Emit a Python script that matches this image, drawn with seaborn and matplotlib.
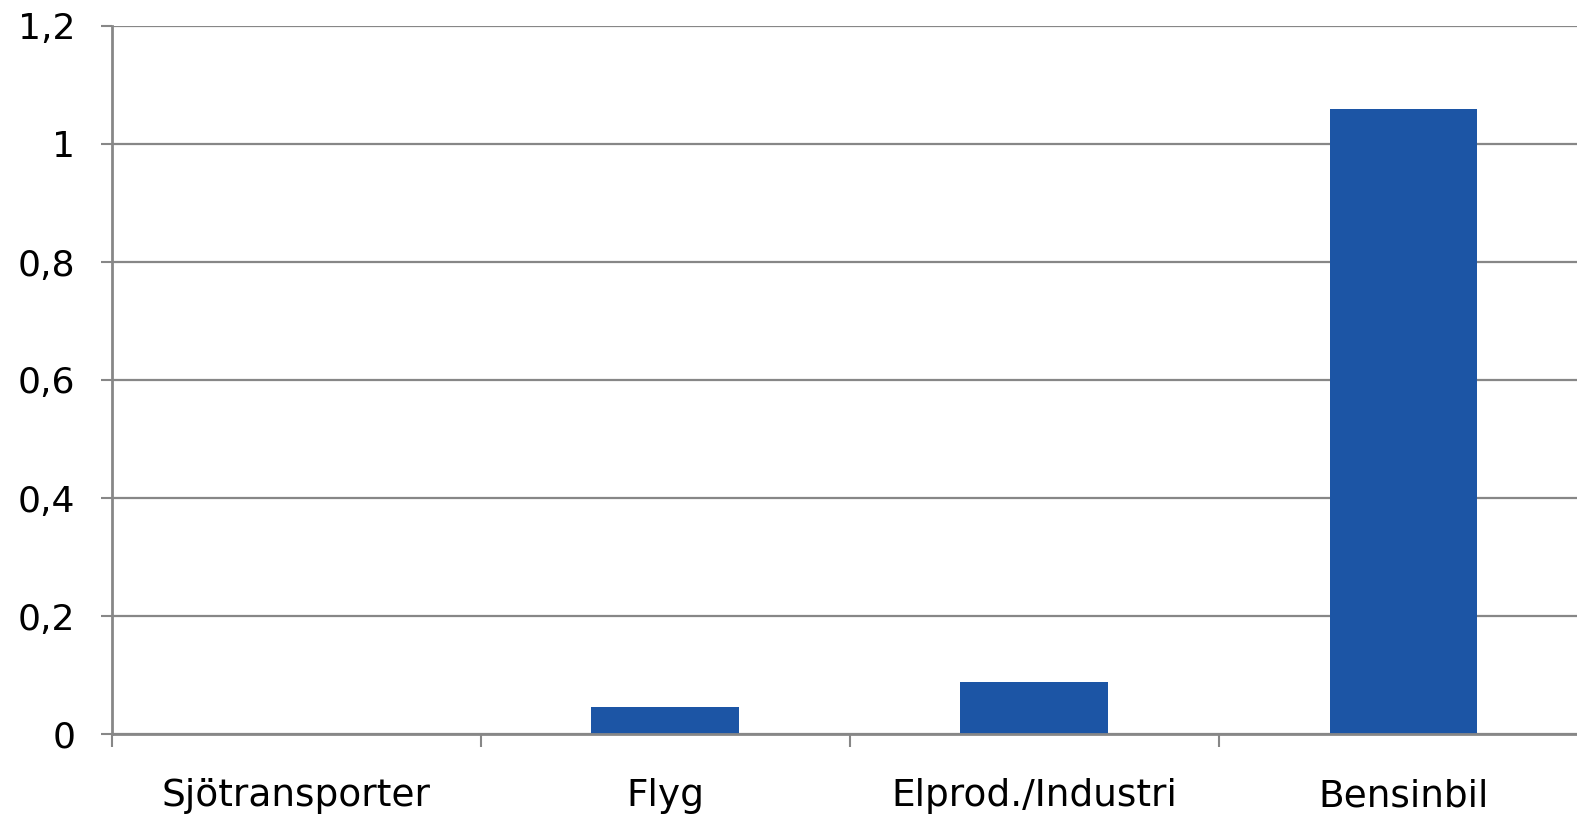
import matplotlib
matplotlib.use("Agg")
import matplotlib.pyplot as plt
from matplotlib.ticker import FuncFormatter, FixedLocator, MultipleLocator
import seaborn as sns
import pandas as pd

categories = ["Sjötransporter", "Flyg", "Elprod./Industri", "Bensinbil"]
values = [0.0, 0.046, 0.088, 1.06]

df = pd.DataFrame({"kategori": categories, "varde": values})

sns.set_theme(style="white")
plt.rcParams["font.family"] = ["DejaVu Sans"]

fig = plt.figure(figsize=(15.77, 8.16), dpi=100)
ax = fig.add_axes([111.5 / 1577, 1 - 734 / 816, (1588 - 111.5) / 1577, (734 - 26) / 816])

grid_col = "#878787"
sns.barplot(data=df, x="kategori", y="varde", color="#1C55A5", width=0.4,
            saturation=1, linewidth=0, ax=ax, zorder=3)

ax.set_xlim(-0.5, 3.5)
ax.set_ylim(0, 1.2)
ax.yaxis.set_major_locator(MultipleLocator(0.2))
ax.yaxis.set_major_formatter(FuncFormatter(lambda v, p: f"{v:g}".replace(".", ",")))
ax.grid(axis="y", color=grid_col, linewidth=1.6, zorder=0)
ax.set_axisbelow(True)

for s in ["top", "right"]:
    ax.spines[s].set_visible(False)
for s in ["left", "bottom"]:
    ax.spines[s].set_color(grid_col)
    ax.spines[s].set_linewidth(2)
ax.spines["bottom"].set_zorder(4)

ax.xaxis.set_minor_locator(FixedLocator([-0.5, 0.5, 1.5, 2.5, 3.5]))
ax.tick_params(axis="x", which="major", length=0, pad=32, labelsize=27, labelcolor="black")
ax.tick_params(axis="x", which="minor", length=9, width=1.5, color=grid_col, direction="out", bottom=True)
ax.tick_params(axis="y", which="major", length=8, width=1.5, color=grid_col, direction="out",
               left=True, pad=18, labelsize=26, labelcolor="black")

ax.set_xlabel("")
ax.set_ylabel("")

fig.savefig("out.png", dpi=100)
